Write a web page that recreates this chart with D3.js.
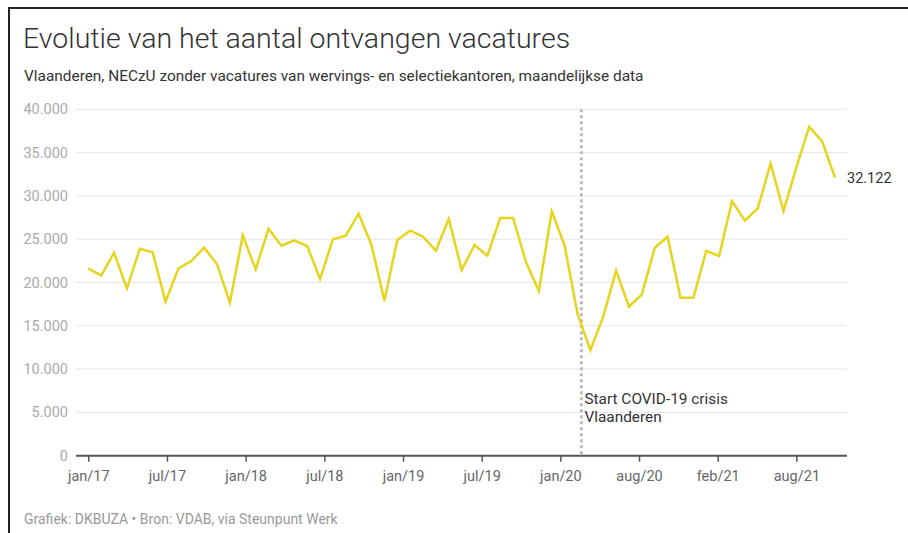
<!DOCTYPE html>
<html>
<head>
<meta charset="utf-8">
<script src="https://cdn.jsdelivr.net/npm/d3@7"></script>
<style>
  body { margin: 0; background: #fff; }
  svg { font-family: Roboto, "Liberation Sans", sans-serif; }
</style>
</head>
<body>
<svg id="chart"></svg>
<script>
// monthly values, jan/17 .. nov/21
const months = ["jan/17","feb/17","mrt/17","apr/17","mei/17","jun/17","jul/17","aug/17","sep/17","okt/17","nov/17","dec/17",
  "jan/18","feb/18","mrt/18","apr/18","mei/18","jun/18","jul/18","aug/18","sep/18","okt/18","nov/18","dec/18",
  "jan/19","feb/19","mrt/19","apr/19","mei/19","jun/19","jul/19","aug/19","sep/19","okt/19","nov/19","dec/19",
  "jan/20","feb/20","mrt/20","apr/20","mei/20","jun/20","jul/20","aug/20","sep/20","okt/20","nov/20","dec/20",
  "jan/21","feb/21","mrt/21","apr/21","mei/21","jun/21","jul/21","aug/21","sep/21","okt/21","nov/21"];
const vacatures = [21640, 20790, 23440, 19330, 23900, 23490, 17780, 21640, 22480, 24020, 22100, 17670,
  25450, 21520, 26210, 24250, 24870, 24210, 20400, 24990, 25400, 27940, 24330, 17900,
  24910, 25980, 25290, 23670, 27370, 21440, 24330, 23090, 27450, 27450, 22330, 19020,
  28220, 24250, 16400, 12200, 16050, 21360, 17210, 18640, 24020, 25290, 18240, 18240,
  23640, 23060, 29410, 27140, 28570, 33760, 28260, 33300, 37990, 36300, 32122];
const xTickLabels = ["jan/17","jul/17","jan/18","jul/18","jan/19","jul/19","jan/20","aug/20","feb/21","aug/21"];
const yTicks = [0, 5000, 10000, 15000, 20000, 25000, 30000, 35000, 40000];
const covidMonth = 38.3; // mid maart 2020
const covidLabel = ["Start COVID-19 crisis", "Vlaanderen"];

const width = 908, height = 533;
const svg = d3.select("#chart").attr("width", width).attr("height", height);

// frame
svg.append("path")
    .attr("d", `M9,${height} V8 H${width}`)
    .attr("fill", "none")
    .attr("stroke", "#222")
    .attr("stroke-width", 2);

svg.append("text")
    .attr("x", 23).attr("y", 48)
    .attr("font-size", "28.5px")
    .attr("font-weight", 300)
    .attr("fill", "#333")
    .text("Evolutie van het aantal ontvangen vacatures");

svg.append("text")
    .attr("x", 24).attr("y", 81)
    .attr("font-size", "15.4px")
    .attr("fill", "#333")
    .text("Vlaanderen, NECzU zonder vacatures van wervings- en selectiekantoren, maandelijkse data");

svg.append("text")
    .attr("x", 24).attr("y", 524)
    .attr("font-size", "14px")
    .attr("fill", "#999")
    .text("Grafiek: DKBUZA \u2022 Bron: VDAB, via Steunpunt Werk");

const plotLeft = 76, plotRight = 847;
const x = d3.scaleLinear().domain([0, vacatures.length - 1]).range([88.3, 835]);
const y = d3.scaleLinear().domain([0, 40000]).range([455.7, 109.3]);

// gridlines + y labels
const yAxis = svg.append("g");
yAxis.selectAll("line").data(yTicks.filter(d => d > 0)).join("line")
    .attr("x1", plotLeft).attr("x2", plotRight)
    .attr("y1", d => y(d)).attr("y2", d => y(d))
    .attr("stroke", "#e6e6e6").attr("stroke-width", 1);
yAxis.selectAll("text").data(yTicks).join("text")
    .attr("x", 68).attr("y", d => y(d))
    .attr("dy", "0.35em")
    .attr("text-anchor", "end")
    .attr("font-size", "14.5px")
    .attr("fill", "#aaa")
    .text(d => d3.format(",")(d).replace(/,/g, "."));

// x axis: evenly spaced ticks from jan/17 to aug/21
const lastTick = months.indexOf("aug/21");
const tickPos = xTickLabels.map((d, i) => i * lastTick / (xTickLabels.length - 1));
const xAxis = svg.append("g")
    .attr("transform", `translate(0,${y(0)})`)
    .call(d3.axisBottom(x).tickValues(tickPos).tickSize(6).tickPadding(9)
        .tickFormat((d, i) => xTickLabels[i]));
xAxis.select(".domain").remove();
xAxis.selectAll(".tick line").attr("stroke", "#555").attr("stroke-width", 1.5);
xAxis.selectAll(".tick text").attr("font-size", "14.5px").attr("fill", "#666")
    .attr("font-family", "Roboto, sans-serif");
svg.append("line")
    .attr("x1", plotLeft).attr("x2", plotRight)
    .attr("y1", y(0)).attr("y2", y(0))
    .attr("stroke", "#555").attr("stroke-width", 2);

// covid marker
svg.append("line")
    .attr("x1", x(covidMonth)).attr("x2", x(covidMonth))
    .attr("y1", y(40000)).attr("y2", y(0))
    .attr("stroke", "#bbb").attr("stroke-width", 3)
    .attr("stroke-dasharray", "3,3");
svg.append("text")
    .attr("x", x(covidMonth) + 3).attr("y", 404)
    .attr("font-size", "15.4px").attr("fill", "#333")
    .selectAll("tspan").data(covidLabel).join("tspan")
    .attr("x", x(covidMonth) + 3)
    .attr("dy", (d, i) => i === 0 ? 0 : 18)
    .text(d => d);

// line
svg.append("path")
    .datum(vacatures)
    .attr("fill", "none")
    .attr("stroke", "#e7d41c")
    .attr("stroke-width", 2.5)
    .attr("stroke-linejoin", "miter")
    .attr("d", d3.line().x((d, i) => x(i)).y(d => y(d)));

// end label
const lastIdx = vacatures.length - 1;
svg.append("text")
    .attr("x", x(lastIdx) + 12).attr("y", y(vacatures[lastIdx]))
    .attr("dy", "0.35em")
    .attr("font-size", "14.5px").attr("fill", "#333")
    .text(d3.format(",")(vacatures[lastIdx]).replace(/,/g, "."));
</script>
</body>
</html>
